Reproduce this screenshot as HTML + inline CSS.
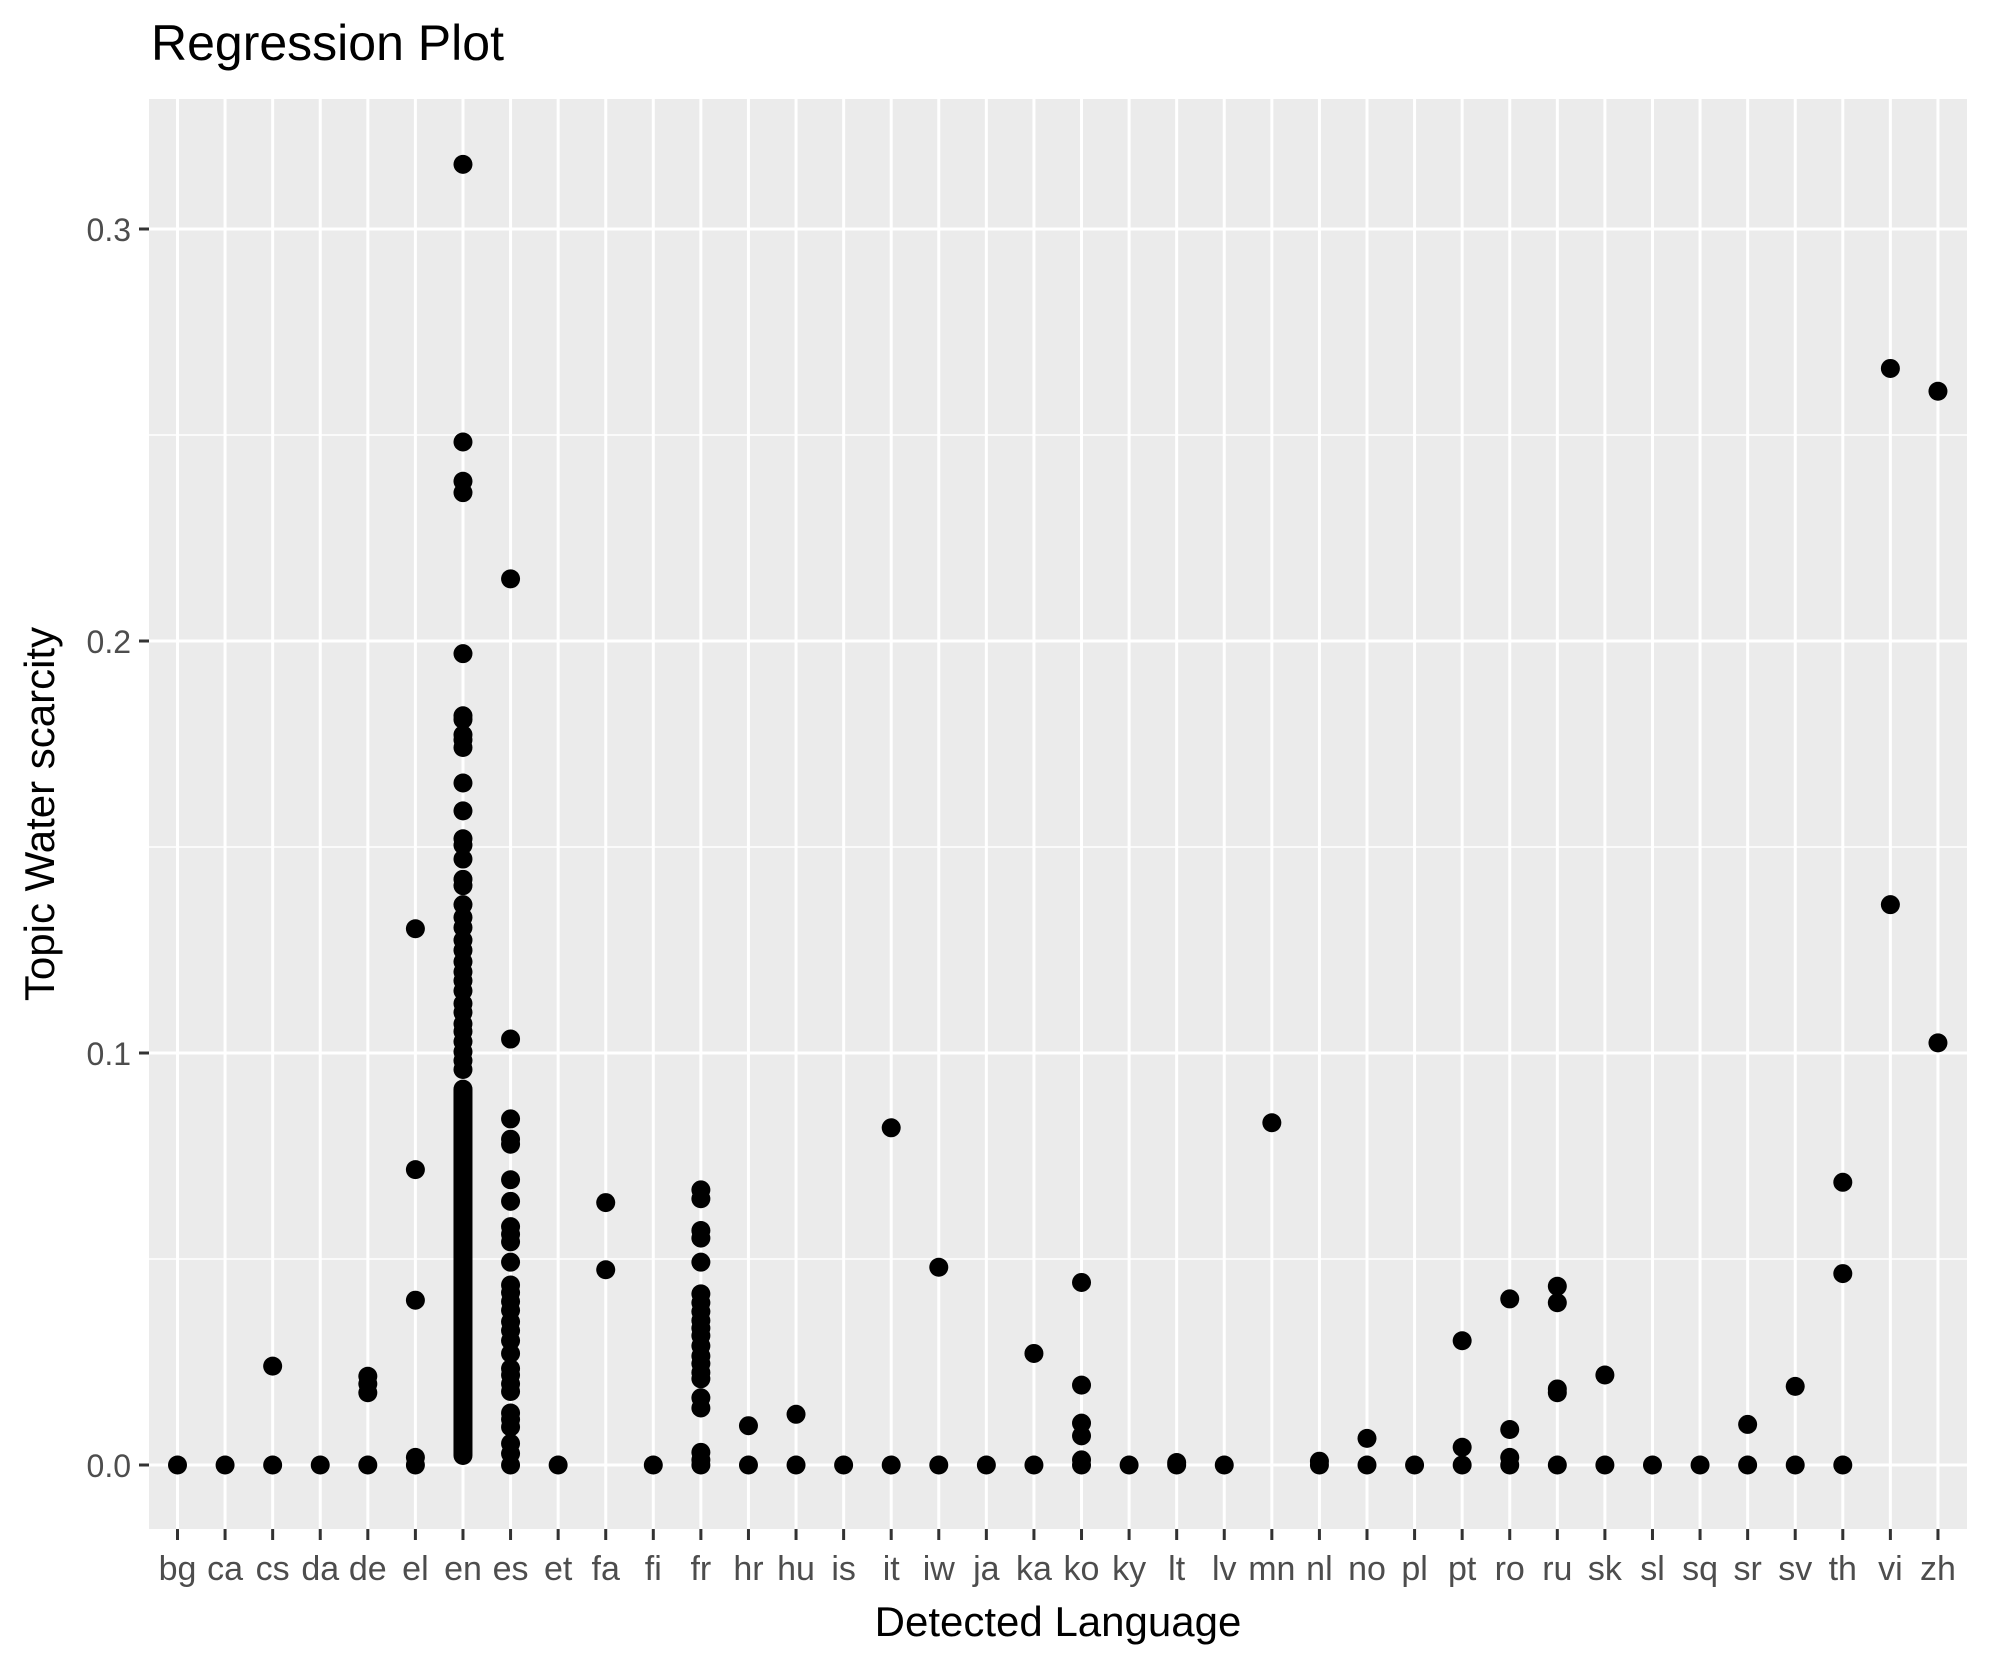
<!DOCTYPE html>
<html><head><style>body{margin:0;background:#fff}svg{display:block}</style></head><body>
<svg width="1990" height="1665" xmlns="http://www.w3.org/2000/svg" font-family="Liberation Sans, sans-serif">
<rect width="1990" height="1665" fill="#fff"/>
<text x="151" y="60" font-size="50" fill="#000">Regression Plot</text>
<rect x="149" y="99" width="1818" height="1430" fill="#ebebeb"/>
<g stroke="#fff" stroke-width="1.5">
<line x1="149" x2="1967" y1="1259" y2="1259"/><line x1="149" x2="1967" y1="847" y2="847"/><line x1="149" x2="1967" y1="435" y2="435"/>
</g>
<g id="grid" stroke="#fff" stroke-width="3"></g>
<g id="pts"></g>
<g id="ticks" stroke="#333" stroke-width="3">
<line x1="139" x2="149" y1="1465" y2="1465"/><line x1="139" x2="149" y1="1053" y2="1053"/><line x1="139" x2="149" y1="641" y2="641"/><line x1="139" x2="149" y1="229" y2="229"/>
</g>
<g font-size="32" fill="#4d4d4d" text-anchor="end">
<text x="131" y="1477">0.0</text><text x="131" y="1065">0.1</text><text x="131" y="653">0.2</text><text x="131" y="241">0.3</text>
</g>
<g id="xl" font-size="34" fill="#4d4d4d" text-anchor="middle"></g>
<text x="1058" y="1636" font-size="42" text-anchor="middle" fill="#000">Detected Language</text>
<text transform="translate(54,814) rotate(-90)" font-size="42" text-anchor="middle" fill="#000">Topic Water scarcity</text>
</svg>
<script>
var L="bg ca cs da de el en es et fa fi fr hr hu is it iw ja ka ko ky lt lv mn nl no pl pt ro ru sk sl sq sr sv th vi zh".split(" ");
var D=[[1154],[1154],[1154,1076],[1154],[1154,1084,1090,1097],[1154,1148,1024,921,731],
[128,347,378,387,514,563,566,578,582,588,616,638,660,665,676,692,697,712,722,730,740,748,757,765,772,780,790,797,806,812,820,828,835,842],
[455,818,881,897,901,929,946,966,972,978,994,1012,1018,1025,1032,1041,1048,1056,1066,1078,1083,1090,1096,1113,1118,1124,1137,1145,1154],
[1154],[947,1000],[1154],[937,944,969,975,994,1019,1026,1033,1040,1046,1052,1060,1068,1074,1081,1086,1101,1109,1144,1150,1154],
[1123,1154],[1114,1154],[1154],[888,1154],[998,1154],[1154],[1066,1154],[1010,1091,1121,1131,1150,1154],[1154],[1152,1154],[1154],[884],
[1151,1154],[1133,1154],[1154],[1056,1140,1154],[1023,1126,1148,1154],[1013,1026,1094,1097,1154],[1083,1154],[1154],[1154],[1122,1154],[1092,1154],[931,1003,1154],[289,712],[307,821]];
var ns="http://www.w3.org/2000/svg";
function el(t,a,p){var e=document.createElementNS(ns,t);for(var k in a)e.setAttribute(k,a[k]);p.appendChild(e);return e;}
var g=document.getElementById("grid"),p=document.getElementById("pts"),tk=document.getElementById("ticks"),xl=document.getElementById("xl");
[1465,1053,641,229].forEach(function(y){el("line",{x1:149,x2:1967,y1:y,y2:y},g);});
function Y(d){return 1465-(1154-d)*1.2677;}
L.forEach(function(n,i){var x=177.5+47.58*i;
el("line",{x1:x,x2:x,y1:99,y2:1529},g);
el("line",{x1:x,x2:x,y1:1529,y2:1540},tk);
var t=el("text",{x:x,y:1580},xl);t.textContent=n;
D[i].forEach(function(d){el("circle",{cx:x,cy:Y(d),r:9.5,fill:"#000"},p);});
if(i==6){el("rect",{x:x-9.5,y:Y(850),width:19,height:1465-Y(850),rx:9.5,fill:"#000"},p);}
});
</script>
</body></html>
